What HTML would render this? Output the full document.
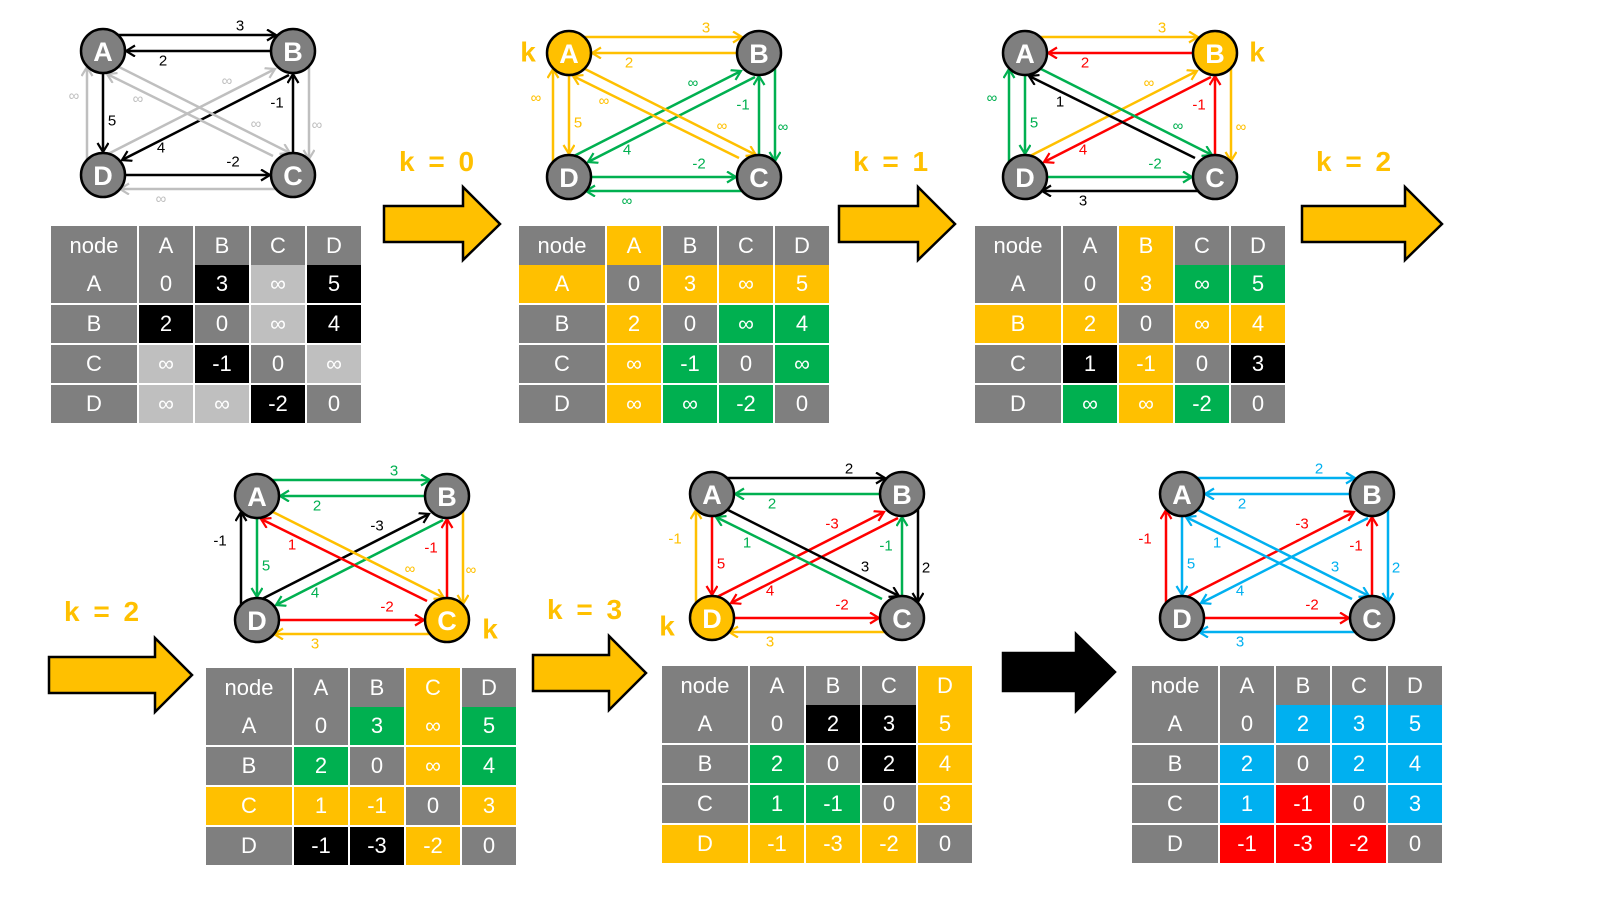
<!DOCTYPE html>
<html><head><meta charset="utf-8"><style>
body{margin:0;width:1600px;height:900px;background:#fff;position:relative;overflow:hidden;font-family:"Liberation Sans",sans-serif}
svg{position:absolute;left:0;top:0}
.t{position:absolute;display:grid;grid-template-columns:86px repeat(4,54px);grid-template-rows:37px repeat(4,38px);column-gap:2px;row-gap:2px}
.t div{display:flex;align-items:center;justify-content:center;color:#fff;font-size:22px}
.t div:nth-child(-n+5){margin-bottom:-3px}
.g{background:#7f7f7f}.k{background:#000}.l{background:#bfbfbf}.y{background:#ffc000}.G{background:#00b050}.r{background:#ff0000}.b{background:#00b0f0}
.kl{position:absolute;color:#ffc000;font-weight:bold;font-size:28px;word-spacing:6px;line-height:1}
</style></head><body>
<svg width="1600" height="900" viewBox="0 0 1600 900" font-family="Liberation Sans, sans-serif">
<defs>
<marker id="mk" markerUnits="userSpaceOnUse" markerWidth="14" markerHeight="14" refX="10" refY="6" orient="auto"><path d="M1,0.5 L10,6 L1,11.5" fill="none" stroke="#000" stroke-width="2.2"/></marker>
<marker id="ml" markerUnits="userSpaceOnUse" markerWidth="14" markerHeight="14" refX="10" refY="6" orient="auto"><path d="M1,0.5 L10,6 L1,11.5" fill="none" stroke="#bfbfbf" stroke-width="2.2"/></marker>
<marker id="my" markerUnits="userSpaceOnUse" markerWidth="14" markerHeight="14" refX="10" refY="6" orient="auto"><path d="M1,0.5 L10,6 L1,11.5" fill="none" stroke="#ffc000" stroke-width="2.2"/></marker>
<marker id="mG" markerUnits="userSpaceOnUse" markerWidth="14" markerHeight="14" refX="10" refY="6" orient="auto"><path d="M1,0.5 L10,6 L1,11.5" fill="none" stroke="#00b050" stroke-width="2.2"/></marker>
<marker id="mr" markerUnits="userSpaceOnUse" markerWidth="14" markerHeight="14" refX="10" refY="6" orient="auto"><path d="M1,0.5 L10,6 L1,11.5" fill="none" stroke="#ff0000" stroke-width="2.2"/></marker>
<marker id="mb" markerUnits="userSpaceOnUse" markerWidth="14" markerHeight="14" refX="10" refY="6" orient="auto"><path d="M1,0.5 L10,6 L1,11.5" fill="none" stroke="#00b0f0" stroke-width="2.2"/></marker>
<style>
.e{fill:none;stroke-width:2.5}
.ek{stroke:#000;marker-end:url(#mk)}.el{stroke:#bfbfbf;marker-end:url(#ml)}.ey{stroke:#ffc000;marker-end:url(#my)}.eG{stroke:#00b050;marker-end:url(#mG)}.er{stroke:#ff0000;marker-end:url(#mr)}.eb{stroke:#00b0f0;marker-end:url(#mb)}
text.w{font-size:15px;text-anchor:middle;dominant-baseline:central}
.tk{fill:#000}.tl{fill:#bfbfbf}.ty{fill:#ffc000}.tG{fill:#00b050}.tr{fill:#ff0000}.tb{fill:#00b0f0}
.n{fill:#7f7f7f;stroke:#000;stroke-width:2.5}.ny{fill:#ffc000;stroke:#000;stroke-width:2.5}
text.nt{fill:#fff;font-size:27px;font-weight:bold;text-anchor:middle;dominant-baseline:central}
text.kk{fill:#ffc000;font-size:28px;font-weight:bold;text-anchor:middle;dominant-baseline:central}
</style>
</defs>

<!-- Arrows -->
<path d="M384,206 H463 V187 L500,224 L463,260 V242 H384 Z" fill="#ffc000" stroke="#000" stroke-width="2.5"/>
<path d="M839,206 H918 V187 L955,224 L918,260 V242 H839 Z" fill="#ffc000" stroke="#000" stroke-width="2.5"/>
<path d="M1302,206 H1405 V187 L1442,224 L1405,260 V242 H1302 Z" fill="#ffc000" stroke="#000" stroke-width="2.5"/>
<path d="M49,657 H155 V638 L192,675 L155,712 V693 H49 Z" fill="#ffc000" stroke="#000" stroke-width="2.5"/>
<path d="M533,655 H609 V636 L646,673 L609,710 V691 H533 Z" fill="#ffc000" stroke="#000" stroke-width="2.5"/>
<path d="M1003,653 H1076 V634 L1115,672 L1076,711 V691 H1003 Z" fill="#000" stroke="#000" stroke-width="2.5"/>

<!-- Panel 1 -->
<g transform="translate(103,51)">
<path class="e ek" d="M15,-16 L173,-16"/><path class="e ek" d="M168,0 L23,0"/><path class="e ek" d="M0,22 L0,101"/><path class="e el" d="M-16,109 L-16,16"/>
<path class="e ek" d="M22,124 L167,124"/><path class="e el" d="M175,138 L17,138"/><path class="e ek" d="M190,102 L190,23"/><path class="e el" d="M206,15 L206,108"/>
<path class="e el" d="M3,104 L172,18"/><path class="e ek" d="M186,24 L19,109"/><path class="e el" d="M16,16 L187,102"/><path class="e el" d="M170,105 L4,23"/>
<text class="w tk" x="137" y="-25">3</text><text class="w tk" x="60" y="10">2</text><text class="w tk" x="9" y="70">5</text><text class="w tl" x="-29" y="45">∞</text>
<text class="w tk" x="130" y="111">-2</text><text class="w tl" x="58" y="148">∞</text><text class="w tk" x="174" y="52">-1</text><text class="w tl" x="214" y="74">∞</text>
<text class="w tl" x="124" y="30">∞</text><text class="w tk" x="58" y="97">4</text><text class="w tl" x="153" y="73">∞</text><text class="w tl" x="35" y="48">∞</text>
<circle class="n" cx="0" cy="0" r="22"/><circle class="n" cx="190" cy="0" r="22"/><circle class="n" cx="0" cy="124" r="22"/><circle class="n" cx="190" cy="124" r="22"/>
<text class="nt" x="0" y="1">A</text><text class="nt" x="190" y="1">B</text><text class="nt" x="0" y="125">D</text><text class="nt" x="190" y="125">C</text>
</g>

<!-- Panel 2 -->
<g transform="translate(569,53)">
<path class="e ey" d="M15,-16 L173,-16"/><path class="e ey" d="M168,0 L23,0"/><path class="e ey" d="M0,22 L0,101"/><path class="e ey" d="M-16,109 L-16,16"/>
<path class="e eG" d="M22,124 L167,124"/><path class="e eG" d="M175,138 L17,138"/><path class="e eG" d="M190,102 L190,23"/><path class="e eG" d="M206,15 L206,108"/>
<path class="e eG" d="M3,104 L172,18"/><path class="e eG" d="M186,24 L19,109"/><path class="e ey" d="M16,16 L187,102"/><path class="e ey" d="M170,105 L4,23"/>
<text class="w ty" x="137" y="-25">3</text><text class="w ty" x="60" y="10">2</text><text class="w ty" x="9" y="70">5</text><text class="w ty" x="-33" y="45">∞</text>
<text class="w tG" x="130" y="111">-2</text><text class="w tG" x="58" y="148">∞</text><text class="w tG" x="174" y="52">-1</text><text class="w tG" x="214" y="74">∞</text>
<text class="w tG" x="124" y="30">∞</text><text class="w tG" x="58" y="97">4</text><text class="w ty" x="153" y="73">∞</text><text class="w ty" x="35" y="48">∞</text>
<circle class="ny" cx="0" cy="0" r="22"/><circle class="n" cx="190" cy="0" r="22"/><circle class="n" cx="0" cy="124" r="22"/><circle class="n" cx="190" cy="124" r="22"/>
<text class="nt" x="0" y="1">A</text><text class="nt" x="190" y="1">B</text><text class="nt" x="0" y="125">D</text><text class="nt" x="190" y="125">C</text>
<text class="kk" x="-41" y="-1">k</text>
</g>

<!-- Panel 3 -->
<g transform="translate(1025,53)">
<path class="e ey" d="M15,-16 L173,-16"/><path class="e er" d="M168,0 L23,0"/><path class="e eG" d="M0,22 L0,101"/><path class="e eG" d="M-16,109 L-16,16"/>
<path class="e eG" d="M22,124 L167,124"/><path class="e ek" d="M175,138 L17,138"/><path class="e er" d="M190,102 L190,23"/><path class="e ey" d="M206,15 L206,108"/>
<path class="e ey" d="M3,104 L172,18"/><path class="e er" d="M186,24 L19,109"/><path class="e eG" d="M16,16 L187,102"/><path class="e ek" d="M170,105 L4,23"/>
<text class="w ty" x="137" y="-25">3</text><text class="w tr" x="60" y="10">2</text><text class="w tG" x="9" y="70">5</text><text class="w tG" x="-33" y="45">∞</text>
<text class="w tG" x="130" y="111">-2</text><text class="w tk" x="58" y="148">3</text><text class="w tr" x="174" y="52">-1</text><text class="w ty" x="216" y="74">∞</text>
<text class="w ty" x="124" y="30">∞</text><text class="w tr" x="58" y="97">4</text><text class="w tG" x="153" y="73">∞</text><text class="w tk" x="35" y="49">1</text>
<circle class="n" cx="0" cy="0" r="22"/><circle class="ny" cx="190" cy="0" r="22"/><circle class="n" cx="0" cy="124" r="22"/><circle class="n" cx="190" cy="124" r="22"/>
<text class="nt" x="0" y="1">A</text><text class="nt" x="190" y="1">B</text><text class="nt" x="0" y="125">D</text><text class="nt" x="190" y="125">C</text>
<text class="kk" x="232" y="-1">k</text>
</g>

<!-- Panel 4 -->
<g transform="translate(257,496)">
<path class="e eG" d="M15,-16 L173,-16"/><path class="e eG" d="M168,0 L23,0"/><path class="e eG" d="M0,22 L0,101"/><path class="e ek" d="M-16,109 L-16,16"/>
<path class="e er" d="M22,124 L167,124"/><path class="e ey" d="M175,138 L17,138"/><path class="e er" d="M190,102 L190,23"/><path class="e ey" d="M206,15 L206,108"/>
<path class="e ek" d="M3,104 L172,18"/><path class="e eG" d="M186,24 L19,109"/><path class="e ey" d="M16,16 L187,102"/><path class="e er" d="M170,105 L4,23"/>
<text class="w tG" x="137" y="-25">3</text><text class="w tG" x="60" y="10">2</text><text class="w tG" x="9" y="70">5</text><text class="w tk" x="-37" y="45">-1</text>
<text class="w tr" x="130" y="111">-2</text><text class="w ty" x="58" y="148">3</text><text class="w tr" x="174" y="52">-1</text><text class="w ty" x="214" y="74">∞</text>
<text class="w tk" x="120" y="30">-3</text><text class="w tG" x="58" y="97">4</text><text class="w ty" x="153" y="73">∞</text><text class="w tr" x="35" y="49">1</text>
<circle class="n" cx="0" cy="0" r="22"/><circle class="n" cx="190" cy="0" r="22"/><circle class="n" cx="0" cy="124" r="22"/><circle class="ny" cx="190" cy="124" r="22"/>
<text class="nt" x="0" y="1">A</text><text class="nt" x="190" y="1">B</text><text class="nt" x="0" y="125">D</text><text class="nt" x="190" y="125">C</text>
<text class="kk" x="233" y="133">k</text>
</g>

<!-- Panel 5 -->
<g transform="translate(712,494)">
<path class="e ek" d="M15,-16 L173,-16"/><path class="e eG" d="M168,0 L23,0"/><path class="e er" d="M0,22 L0,101"/><path class="e ey" d="M-16,109 L-16,16"/>
<path class="e er" d="M22,124 L167,124"/><path class="e ey" d="M175,138 L17,138"/><path class="e eG" d="M190,102 L190,23"/><path class="e ek" d="M206,15 L206,108"/>
<path class="e er" d="M3,104 L172,18"/><path class="e er" d="M186,24 L19,109"/><path class="e ek" d="M16,16 L187,102"/><path class="e eG" d="M170,105 L4,23"/>
<text class="w tk" x="137" y="-25">2</text><text class="w tG" x="60" y="10">2</text><text class="w tr" x="9" y="70">5</text><text class="w ty" x="-37" y="45">-1</text>
<text class="w tr" x="130" y="111">-2</text><text class="w ty" x="58" y="148">3</text><text class="w tG" x="174" y="52">-1</text><text class="w tk" x="214" y="74">2</text>
<text class="w tr" x="120" y="30">-3</text><text class="w tr" x="58" y="97">4</text><text class="w tk" x="153" y="73">3</text><text class="w tG" x="35" y="49">1</text>
<circle class="n" cx="0" cy="0" r="22"/><circle class="n" cx="190" cy="0" r="22"/><circle class="ny" cx="0" cy="124" r="22"/><circle class="n" cx="190" cy="124" r="22"/>
<text class="nt" x="0" y="1">A</text><text class="nt" x="190" y="1">B</text><text class="nt" x="0" y="125">D</text><text class="nt" x="190" y="125">C</text>
<text class="kk" x="-45" y="132">k</text>
</g>

<!-- Panel 6 -->
<g transform="translate(1182,494)">
<path class="e eb" d="M15,-16 L173,-16"/><path class="e eb" d="M168,0 L23,0"/><path class="e eb" d="M0,22 L0,101"/><path class="e er" d="M-16,109 L-16,16"/>
<path class="e er" d="M22,124 L167,124"/><path class="e eb" d="M175,138 L17,138"/><path class="e er" d="M190,102 L190,23"/><path class="e eb" d="M206,15 L206,108"/>
<path class="e er" d="M3,104 L172,18"/><path class="e eb" d="M186,24 L19,109"/><path class="e eb" d="M16,16 L187,102"/><path class="e eb" d="M170,105 L4,23"/>
<text class="w tb" x="137" y="-25">2</text><text class="w tb" x="60" y="10">2</text><text class="w tb" x="9" y="70">5</text><text class="w tr" x="-37" y="45">-1</text>
<text class="w tr" x="130" y="111">-2</text><text class="w tb" x="58" y="148">3</text><text class="w tr" x="174" y="52">-1</text><text class="w tb" x="214" y="74">2</text>
<text class="w tr" x="120" y="30">-3</text><text class="w tb" x="58" y="97">4</text><text class="w tb" x="153" y="73">3</text><text class="w tb" x="35" y="49">1</text>
<circle class="n" cx="0" cy="0" r="22"/><circle class="n" cx="190" cy="0" r="22"/><circle class="n" cx="0" cy="124" r="22"/><circle class="n" cx="190" cy="124" r="22"/>
<text class="nt" x="0" y="1">A</text><text class="nt" x="190" y="1">B</text><text class="nt" x="0" y="125">D</text><text class="nt" x="190" y="125">C</text>
</g>
</svg>

<div class="kl" style="left:399px;top:148px">k = 0</div>
<div class="kl" style="left:853px;top:148px">k = 1</div>
<div class="kl" style="left:1316px;top:148px">k = 2</div>
<div class="kl" style="left:64px;top:598px">k = 2</div>
<div class="kl" style="left:547px;top:596px">k = 3</div>

<div class="t" style="left:51px;top:226px">
<div class="g">node</div><div class="g">A</div><div class="g">B</div><div class="g">C</div><div class="g">D</div>
<div class="g">A</div><div class="g">0</div><div class="k">3</div><div class="l">∞</div><div class="k">5</div>
<div class="g">B</div><div class="k">2</div><div class="g">0</div><div class="l">∞</div><div class="k">4</div>
<div class="g">C</div><div class="l">∞</div><div class="k">-1</div><div class="g">0</div><div class="l">∞</div>
<div class="g">D</div><div class="l">∞</div><div class="l">∞</div><div class="k">-2</div><div class="g">0</div>
</div>

<div class="t" style="left:519px;top:226px">
<div class="g">node</div><div class="y">A</div><div class="g">B</div><div class="g">C</div><div class="g">D</div>
<div class="y">A</div><div class="g">0</div><div class="y">3</div><div class="y">∞</div><div class="y">5</div>
<div class="g">B</div><div class="y">2</div><div class="g">0</div><div class="G">∞</div><div class="G">4</div>
<div class="g">C</div><div class="y">∞</div><div class="G">-1</div><div class="g">0</div><div class="G">∞</div>
<div class="g">D</div><div class="y">∞</div><div class="G">∞</div><div class="G">-2</div><div class="g">0</div>
</div>

<div class="t" style="left:975px;top:226px">
<div class="g">node</div><div class="g">A</div><div class="y">B</div><div class="g">C</div><div class="g">D</div>
<div class="g">A</div><div class="g">0</div><div class="y">3</div><div class="G">∞</div><div class="G">5</div>
<div class="y">B</div><div class="y">2</div><div class="g">0</div><div class="y">∞</div><div class="y">4</div>
<div class="g">C</div><div class="k">1</div><div class="y">-1</div><div class="g">0</div><div class="k">3</div>
<div class="g">D</div><div class="G">∞</div><div class="y">∞</div><div class="G">-2</div><div class="g">0</div>
</div>

<div class="t" style="left:206px;top:668px">
<div class="g">node</div><div class="g">A</div><div class="g">B</div><div class="y">C</div><div class="g">D</div>
<div class="g">A</div><div class="g">0</div><div class="G">3</div><div class="y">∞</div><div class="G">5</div>
<div class="g">B</div><div class="G">2</div><div class="g">0</div><div class="y">∞</div><div class="G">4</div>
<div class="y">C</div><div class="y">1</div><div class="y">-1</div><div class="g">0</div><div class="y">3</div>
<div class="g">D</div><div class="k">-1</div><div class="k">-3</div><div class="y">-2</div><div class="g">0</div>
</div>

<div class="t" style="left:662px;top:666px">
<div class="g">node</div><div class="g">A</div><div class="g">B</div><div class="g">C</div><div class="y">D</div>
<div class="g">A</div><div class="g">0</div><div class="k">2</div><div class="k">3</div><div class="y">5</div>
<div class="g">B</div><div class="G">2</div><div class="g">0</div><div class="k">2</div><div class="y">4</div>
<div class="g">C</div><div class="G">1</div><div class="G">-1</div><div class="g">0</div><div class="y">3</div>
<div class="y">D</div><div class="y">-1</div><div class="y">-3</div><div class="y">-2</div><div class="g">0</div>
</div>

<div class="t" style="left:1132px;top:666px">
<div class="g">node</div><div class="g">A</div><div class="g">B</div><div class="g">C</div><div class="g">D</div>
<div class="g">A</div><div class="g">0</div><div class="b">2</div><div class="b">3</div><div class="b">5</div>
<div class="g">B</div><div class="b">2</div><div class="g">0</div><div class="b">2</div><div class="b">4</div>
<div class="g">C</div><div class="b">1</div><div class="r">-1</div><div class="g">0</div><div class="b">3</div>
<div class="g">D</div><div class="r">-1</div><div class="r">-3</div><div class="r">-2</div><div class="g">0</div>
</div>
</body></html>
